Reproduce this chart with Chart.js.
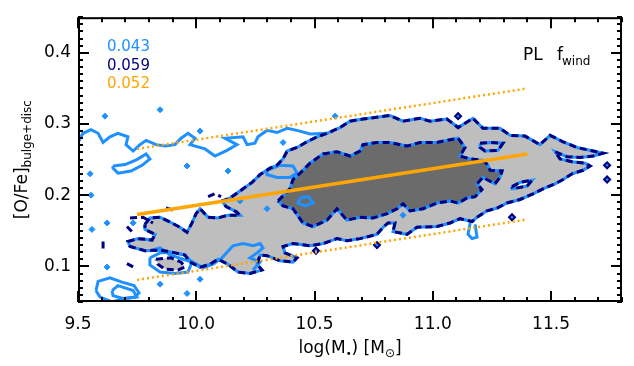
<!DOCTYPE html>
<html>
<head>
<meta charset="utf-8">
<script src="https://cdn.jsdelivr.net/npm/chart.js@4.4.1/dist/chart.umd.min.js"></script>
<style>
  html, body { margin: 0; padding: 0; background: #fff; }
</style>
</head>
<body>
<canvas id="chart" width="634" height="366"></canvas>
<script>
// axis ticks
const xTicks = [9.5, 10.0, 10.5, 11.0, 11.5];
const yTicks = [0.1, 0.2, 0.3, 0.4];

// scatter numbers shown top-left
const scatterLabels = ['0.043', '0.059', '0.052'];

// best fit + dotted envelope
const fitX = [9.75, 11.4];
const fitY = [0.173, 0.258];
const fitUpperY = [0.265, 0.350];
const fitLowerY = [0.081, 0.166];

// outer (light grey) contour, [log M*, O/Fe]
const outerContour = [
  [9.783, 0.159], [9.804, 0.168], [9.847, 0.169], [9.897, 0.161], [9.931, 0.155], [9.961, 0.148],
  [9.982, 0.161], [9.999, 0.174], [10.016, 0.181], [10.050, 0.169], [10.092, 0.168], [10.134, 0.172],
  [10.185, 0.172], [10.168, 0.177], [10.126, 0.184], [10.109, 0.192], [10.143, 0.196], [10.198, 0.209],
  [10.236, 0.218], [10.270, 0.229], [10.312, 0.238], [10.341, 0.242], [10.367, 0.251], [10.384, 0.262],
  [10.426, 0.267], [10.468, 0.275], [10.511, 0.282], [10.553, 0.287], [10.608, 0.295], [10.650, 0.304],
  [10.705, 0.307], [10.819, 0.312], [10.874, 0.304], [10.946, 0.308], [10.988, 0.304], [11.060, 0.307],
  [11.107, 0.295], [11.170, 0.308], [11.212, 0.294], [11.284, 0.294], [11.327, 0.284], [11.390, 0.283],
  [11.453, 0.271], [11.496, 0.284], [11.551, 0.275], [11.610, 0.267], [11.678, 0.262], [11.720, 0.259],
  [11.678, 0.255], [11.623, 0.253], [11.567, 0.254], [11.517, 0.261], [11.538, 0.251], [11.589, 0.247],
  [11.644, 0.245], [11.665, 0.241], [11.635, 0.235], [11.589, 0.230], [11.551, 0.222], [11.517, 0.216],
  [11.466, 0.209], [11.424, 0.202], [11.369, 0.194], [11.314, 0.189], [11.272, 0.182], [11.229, 0.178],
  [11.187, 0.169], [11.166, 0.163], [11.115, 0.167], [11.073, 0.161], [11.018, 0.156], [10.933, 0.155],
  [10.891, 0.145], [10.832, 0.149], [10.840, 0.161], [10.811, 0.161], [10.790, 0.155], [10.764, 0.145],
  [10.692, 0.139], [10.637, 0.136], [10.595, 0.139], [10.536, 0.132], [10.481, 0.129], [10.409, 0.132],
  [10.367, 0.128], [10.375, 0.119], [10.426, 0.112], [10.409, 0.106], [10.354, 0.108], [10.299, 0.115],
  [10.270, 0.116], [10.257, 0.103], [10.278, 0.095], [10.227, 0.090], [10.177, 0.092], [10.134, 0.103],
  [10.092, 0.110], [10.058, 0.103], [10.016, 0.099], [9.974, 0.106], [9.952, 0.116], [9.910, 0.119],
  [9.847, 0.123], [9.783, 0.122], [9.720, 0.128], [9.711, 0.135], [9.754, 0.139], [9.813, 0.137],
  [9.826, 0.145], [9.783, 0.152]
];

// inner (dark grey) contour
const innerContour = [
  [10.346, 0.192], [10.396, 0.209], [10.409, 0.222], [10.439, 0.231], [10.481, 0.245], [10.536, 0.258],
  [10.595, 0.261], [10.650, 0.255], [10.692, 0.262], [10.705, 0.271], [10.764, 0.274], [10.819, 0.274],
  [10.891, 0.269], [10.946, 0.274], [11.018, 0.274], [11.073, 0.278], [11.107, 0.280], [11.136, 0.267],
  [11.115, 0.255], [11.158, 0.251], [11.212, 0.249], [11.234, 0.242], [11.242, 0.235], [11.293, 0.234],
  [11.284, 0.225], [11.263, 0.216], [11.212, 0.225], [11.187, 0.216], [11.208, 0.208], [11.179, 0.198],
  [11.145, 0.196], [11.107, 0.189], [11.073, 0.192], [11.018, 0.189], [10.959, 0.181], [10.904, 0.178],
  [10.874, 0.188], [10.849, 0.181], [10.807, 0.174], [10.747, 0.168], [10.692, 0.169], [10.637, 0.165],
  [10.595, 0.181], [10.553, 0.165], [10.494, 0.156], [10.451, 0.161], [10.409, 0.181], [10.367, 0.185]
];

// small pieces of the contours
const outerHole = [[11.335, 0.212], [11.369, 0.218], [11.420, 0.221], [11.399, 0.213], [11.339, 0.209]];
const greyBlob = [[9.830, 0.110], [9.893, 0.112], [9.936, 0.106], [9.952, 0.099], [9.923, 0.095], [9.868, 0.096], [9.838, 0.103]];
const innerIsland = [[11.200, 0.273], [11.242, 0.274], [11.297, 0.273], [11.276, 0.263], [11.221, 0.262], [11.200, 0.267]];

// blue (0.043 sample) contour pieces that leave the grey area
const blueUpper = [
  [9.500, 0.274], [9.521, 0.287], [9.555, 0.292], [9.585, 0.287], [9.606, 0.274], [9.635, 0.282],
  [9.669, 0.287], [9.711, 0.282], [9.703, 0.271], [9.733, 0.262], [9.762, 0.271], [9.788, 0.277],
  [9.830, 0.271], [9.868, 0.269], [9.910, 0.271], [9.936, 0.280], [9.965, 0.287], [9.995, 0.280],
  [9.974, 0.271], [10.037, 0.265], [10.079, 0.255], [10.130, 0.263], [10.172, 0.271], [10.122, 0.280],
  [10.198, 0.282], [10.215, 0.271], [10.248, 0.273], [10.261, 0.282], [10.299, 0.291], [10.341, 0.288],
  [10.384, 0.294], [10.426, 0.291], [10.481, 0.286], [10.553, 0.287]
];
const blueLoopUpper = [[9.648, 0.241], [9.699, 0.243], [9.749, 0.250], [9.788, 0.258], [9.804, 0.251], [9.771, 0.242], [9.724, 0.234], [9.669, 0.231], [9.648, 0.238]];
const blueLoopLowOuter = [[9.576, 0.066], [9.585, 0.079], [9.635, 0.084], [9.686, 0.078], [9.737, 0.073], [9.758, 0.063], [9.741, 0.057], [9.686, 0.054], [9.644, 0.050], [9.593, 0.057]];
const blueLoopLowInner = [[9.644, 0.066], [9.669, 0.073], [9.733, 0.066], [9.749, 0.057], [9.690, 0.055], [9.648, 0.059]];
const blueLoopBlob = [[9.804, 0.112], [9.847, 0.119], [9.897, 0.120], [9.952, 0.116], [9.982, 0.106], [9.965, 0.092], [9.910, 0.090], [9.847, 0.092], [9.804, 0.102]];
const blueLoopMid = [[10.299, 0.235], [10.354, 0.242], [10.409, 0.241], [10.426, 0.231], [10.396, 0.225], [10.341, 0.225], [10.299, 0.229]];
const blueLoopDark = [[10.439, 0.196], [10.473, 0.198], [10.494, 0.189], [10.460, 0.185], [10.430, 0.189]];
const blueLower = [
  [9.804, 0.122], [9.847, 0.126], [9.889, 0.116], [9.944, 0.110], [9.986, 0.106], [10.029, 0.098],
  [10.071, 0.103], [10.109, 0.112], [10.155, 0.129], [10.198, 0.132], [10.240, 0.129], [10.270, 0.132],
  [10.282, 0.126], [10.257, 0.119], [10.227, 0.112], [10.270, 0.106], [10.240, 0.095]
];
const blueDrop = [[11.158, 0.161], [11.149, 0.145], [11.166, 0.139], [11.187, 0.141], [11.179, 0.159]];

// navy (0.059 sample) stray dashed arcs
const navyArcs = [
  [[9.720, 0.168], [9.775, 0.169], [9.817, 0.161]],
  [[9.872, 0.182], [9.914, 0.178]],
  [[10.050, 0.198], [10.079, 0.202], [10.105, 0.198]],
  [[9.606, 0.135], [9.606, 0.123]],
  [[9.707, 0.104], [9.741, 0.098]],
  [[9.707, 0.156], [9.733, 0.147]]
];

// single-cell islands
const blueIslands = [
  [9.614, 0.311], [9.847, 0.320], [10.016, 0.290], [9.551, 0.230], [9.961, 0.241], [10.134, 0.234],
  [9.555, 0.200], [9.623, 0.161], [9.559, 0.152], [9.733, 0.161], [9.623, 0.099], [10.016, 0.082],
  [9.961, 0.062], [10.587, 0.311], [10.874, 0.172], [10.299, 0.181], [10.185, 0.192], [10.367, 0.274],
  [9.847, 0.075]
];
const navyIslands = [[11.107, 0.311], [11.737, 0.242], [11.737, 0.222], [11.335, 0.169], [10.764, 0.130], [10.506, 0.122]];

const BLUE = '#1e90ff';
const NAVY = '#000080';
const ORANGE = '#ffa500';
const LIGHT = '#bebebe';
const DARK = '#6b6b6b';

const pts = arr => arr.map(([x, y]) => ({ x, y }));
const ring = arr => pts([...arr, arr[0]]);

function fillSet(data, color, order) {
    return { data: ring(data), fill: 'shape', backgroundColor: color, borderColor: 'rgba(0,0,0,0)',
             borderWidth: 0, pointRadius: 0, order };
}
function blueSet(data, closed, order = 50) {
    return { data: closed ? ring(data) : pts(data), fill: false, borderColor: BLUE, borderWidth: 3,
             pointRadius: 0, order };
}
function navySet(data, closed, order = 40) {
    return { data: closed ? ring(data) : pts(data), fill: false, borderColor: NAVY, borderWidth: 3,
             borderDash: [7, 4], pointRadius: 0, order };
}
function fitSet(ys, dotted) {
    return { data: fitX.map((x, i) => ({ x, y: ys[i] })), fill: false, borderColor: ORANGE,
             borderWidth: dotted ? 2.5 : 3.5, borderDash: dotted ? [2, 3] : [], pointRadius: 0, order: 1 };
}

const datasets = [
    fillSet(outerContour, LIGHT, 100),
    fillSet(greyBlob, LIGHT, 100),
    fillSet(outerHole, '#ffffff', 95),
    fillSet(innerContour, DARK, 90),
    blueSet(outerContour, true),
    blueSet(innerContour, true),
    blueSet(outerHole, true),
    blueSet(innerIsland, true),
    blueSet(blueUpper, false),
    blueSet(blueLoopUpper, true),
    blueSet(blueLoopLowOuter, true),
    blueSet(blueLoopLowInner, true),
    blueSet(blueLoopBlob, true),
    blueSet(blueLoopMid, true),
    blueSet(blueLoopDark, true),
    blueSet(blueLower, false),
    blueSet(blueDrop, false),
    navySet(outerContour, true),
    navySet(innerContour, true),
    navySet(outerHole, true),
    navySet(innerIsland, true),
    navySet(greyBlob, true),
    ...navyArcs.map(a => navySet(a, false)),
    { data: pts(blueIslands), showLine: false, pointStyle: 'rectRot', pointRadius: 3,
      pointBorderColor: BLUE, pointBorderWidth: 1, pointBackgroundColor: BLUE, order: 45 },
    { data: pts(navyIslands), showLine: false, pointStyle: 'rectRot', pointRadius: 3,
      pointBorderColor: NAVY, pointBorderWidth: 2, pointBackgroundColor: BLUE, order: 35 },
    fitSet(fitY, false),
    fitSet(fitUpperY, true),
    fitSet(fitLowerY, true)
];

// frame, inward ticks and text with subscripts
const framePlugin = {
    id: 'frame',
    afterDraw(chart) {
        const { ctx, chartArea: a, scales: { x, y } } = chart;
        ctx.save();
        ctx.strokeStyle = '#000';
        ctx.lineWidth = 2;
        ctx.strokeRect(a.left + 1, a.top + 1, a.right - a.left - 2, a.bottom - a.top - 2);

        ctx.beginPath();
        for (let i = 0; i <= 23; i++) {
            const px = Math.round(x.getPixelForValue(9.5 + i * 0.1));
            const len = i % 5 === 0 ? 11 : 5;
            ctx.moveTo(px, a.bottom); ctx.lineTo(px, a.bottom - len);
            ctx.moveTo(px, a.top); ctx.lineTo(px, a.top + len);
        }
        for (let i = 0; i <= 40; i++) {
            const py = Math.round(y.getPixelForValue(0.05 + i * 0.01));
            const len = (i + 5) % 10 === 0 ? 11 : 5;
            ctx.moveTo(a.left, py); ctx.lineTo(a.left + len, py);
            ctx.moveTo(a.right, py); ctx.lineTo(a.right - len, py);
        }
        ctx.stroke();

        // top-left numbers
        ctx.textBaseline = 'middle';
        ctx.textAlign = 'left';
        ctx.font = '15px "DejaVu Sans"';
        [BLUE, NAVY, ORANGE].forEach((c, i) => {
            ctx.fillStyle = c;
            ctx.fillText(scatterLabels[i], a.left + 29, a.top + 30 + i * 18.5);
        });

        // PL f_wind
        ctx.fillStyle = '#000';
        ctx.textBaseline = 'alphabetic';
        ctx.font = '17px "DejaVu Sans"';
        ctx.fillText('PL', a.right - 99, a.top + 43);
        ctx.fillText('f', a.right - 65, a.top + 43);
        ctx.font = '12px "DejaVu Sans"';
        ctx.fillText('wind', a.right - 60, a.top + 48);

        // x title
        const parts = [
            ['log(M', 17, 0], ['\u2022', 10, 4], [') [M', 17, 0], ['\u2299', 12, 4], [']', 17, 0]
        ];
        let w = 0;
        parts.forEach(p => { ctx.font = p[1] + 'px "DejaVu Sans"'; w += ctx.measureText(p[0]).width; });
        let cx = (a.left + a.right) / 2 - w / 2;
        parts.forEach(p => {
            ctx.font = p[1] + 'px "DejaVu Sans"';
            ctx.fillText(p[0], cx, 353 + p[2]);
            cx += ctx.measureText(p[0]).width;
        });

        // y title, rotated
        const yparts = [['[O/Fe]', 17, 0], ['bulge+disc', 12, 4]];
        w = 0;
        yparts.forEach(p => { ctx.font = p[1] + 'px "DejaVu Sans"'; w += ctx.measureText(p[0]).width; });
        ctx.translate(27, (a.top + a.bottom) / 2);
        ctx.rotate(-Math.PI / 2);
        cx = -w / 2;
        yparts.forEach(p => {
            ctx.font = p[1] + 'px "DejaVu Sans"';
            ctx.fillText(p[0], cx, p[2]);
            cx += ctx.measureText(p[0]).width;
        });
        ctx.restore();
    }
};

const tickFont = { family: 'DejaVu Sans', size: 17 };

new Chart(document.getElementById('chart').getContext('2d'), {
    type: 'line',
    data: { datasets },
    options: {
        responsive: false,
        animation: false,
        events: [],
        elements: { line: { tension: 0 } },
        layout: { padding: { top: 0, right: 12, left: 0, bottom: 0 } },
        plugins: { legend: { display: false }, tooltip: { enabled: false } },
        scales: {
            x: {
                type: 'linear', min: 9.5, max: 11.8,
                grid: { display: false, drawTicks: false }, border: { display: false },
                afterBuildTicks: s => { s.ticks = xTicks.map(v => ({ value: v })); },
                afterFit: s => { s.height = 64; },
                ticks: { callback: v => v.toFixed(1), font: tickFont, color: '#000', padding: 12,
                         maxRotation: 0, autoSkip: false }
            },
            y: {
                type: 'linear', min: 0.05, max: 0.45,
                grid: { display: false, drawTicks: false }, border: { display: false },
                afterBuildTicks: s => { s.ticks = yTicks.map(v => ({ value: v })); },
                afterFit: s => { s.width = 78; },
                ticks: { callback: v => v.toFixed(1), font: tickFont, color: '#000', padding: 7,
                         autoSkip: false }
            }
        }
    },
    plugins: [framePlugin]
});
</script>
</body>
</html>
